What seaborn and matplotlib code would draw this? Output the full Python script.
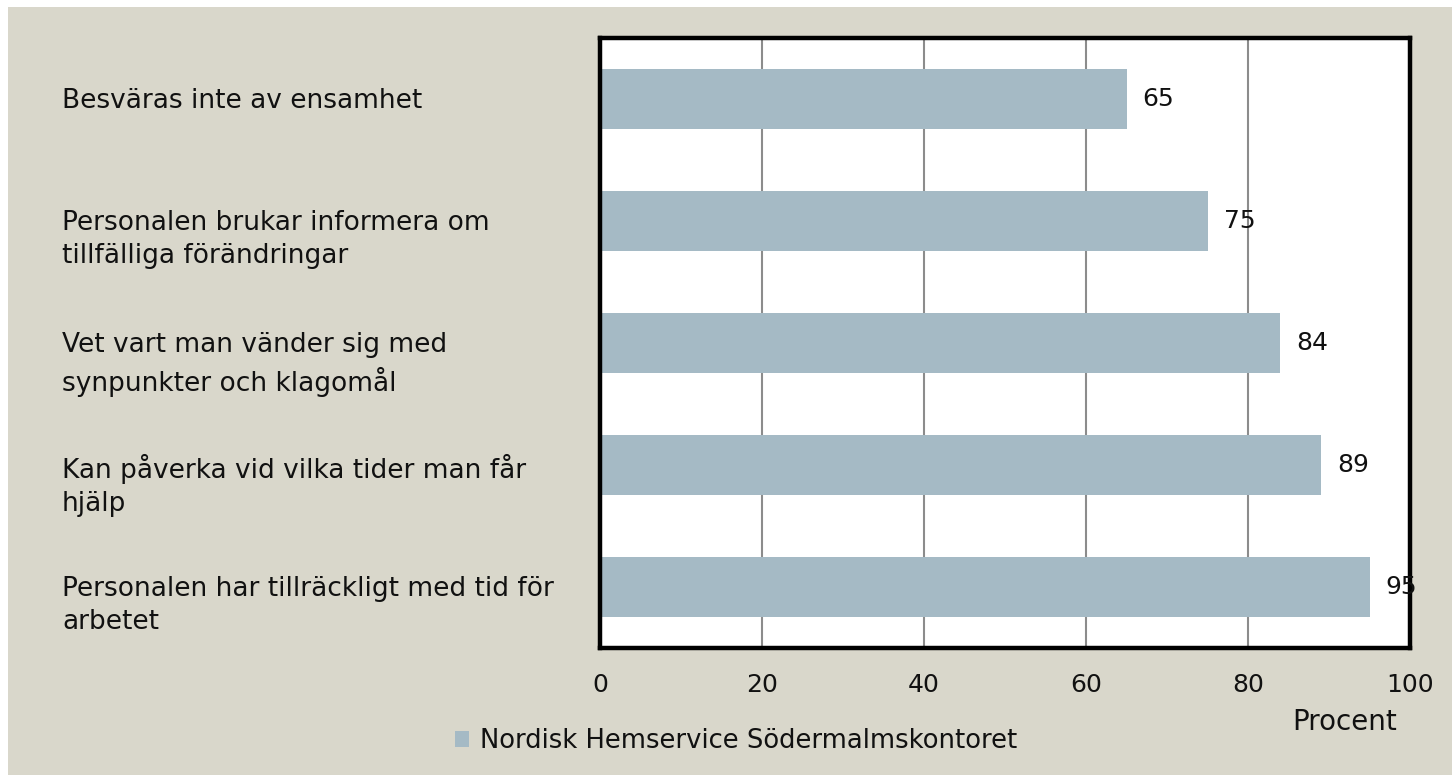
import matplotlib
matplotlib.use("Agg")
import matplotlib.pyplot as plt
import matplotlib.transforms as mtransforms
from matplotlib.patches import Rectangle
import seaborn as sns
import pandas as pd

categories = [
    "Besväras inte av ensamhet",
    "Personalen brukar informera om\ntillfälliga förändringar",
    "Vet vart man vänder sig med\nsynpunkter och klagomål",
    "Kan påverka vid vilka tider man får\nhjälp",
    "Personalen har tillräckligt med tid för\narbetet",
]
values = [65, 75, 84, 89, 95]
series_name = "Nordisk Hemservice Södermalmskontoret"
x_ticks = [0, 20, 40, 60, 80, 100]
x_label = "Procent"

BG = "#D9D7CB"
BAR = "#A5BAC5"
FS_TXT = 19
FS_NUM = 18

sns.set_theme(style="white")
plt.rcParams["font.family"] = ["DejaVu Sans"]

W, H = 1452, 775
fig = plt.figure(figsize=(W / 100, H / 100), dpi=100, facecolor="white")
fig.patches.append(Rectangle((8 / W, 0), 1 - 8 / W, 1 - 7 / H, transform=fig.transFigure,
                             facecolor=BG, edgecolor="none", zorder=-10))

ax = fig.add_axes([600 / W, 1 - 648 / H, 810 / W, 610 / H])
ax.set_facecolor("white")

df = pd.DataFrame({"cat": categories, "val": values, "series": series_name})
sns.barplot(data=df, x="val", y="cat", hue="series", palette=[BAR], orient="h",
            width=0.49, ax=ax, saturation=1, legend=True, linewidth=0)

ax.set_xlim(0, 100)
ax.set_xticks(x_ticks)
ax.set_xticklabels([str(t) for t in x_ticks], fontsize=FS_NUM, color="#111111")
ax.tick_params(axis="x", length=0, pad=18)
ax.set_yticks(range(len(categories)))
ax.set_yticklabels([])
ax.tick_params(axis="y", length=0)
ax.set_xlabel("")
ax.set_ylabel("")
ax.grid(axis="x", color="#8c8c8c", linewidth=1.5)
ax.set_axisbelow(True)
for s in ax.spines.values():
    s.set_visible(True)
    s.set_color("black")
    s.set_linewidth(3.2)

trans = mtransforms.blended_transform_factory(fig.transFigure, ax.transData)
trans_lbl = mtransforms.offset_copy(trans, fig=fig, x=0, y=11, units="dots")
for i, c in enumerate(categories):
    ax.text(62 / W, i, c, transform=trans_lbl, ha="left", va="top", fontsize=FS_TXT,
            color="#111111", linespacing=1.36, clip_on=False)

offset = mtransforms.offset_copy(ax.transData, fig=fig, x=16, y=0, units="dots")
for i, v in enumerate(values):
    ax.text(v, i, str(v), transform=offset, ha="left", va="center", fontsize=FS_NUM,
            color="#111111", clip_on=False)

fig.text(1345 / W, 1 - 722 / H, x_label, ha="center", va="center", fontsize=20, color="#111111")

leg = ax.legend(loc="center left", bbox_to_anchor=(432 / W, 1 - 741 / H), bbox_transform=fig.transFigure,
                frameon=False, fontsize=18.6, handlelength=0.55, handleheight=0.6, handletextpad=0.4,
                labelcolor="#111111")
for h in leg.legend_handles:
    h.set_edgecolor("none")

fig.savefig("out.png", dpi=100, facecolor="white")
